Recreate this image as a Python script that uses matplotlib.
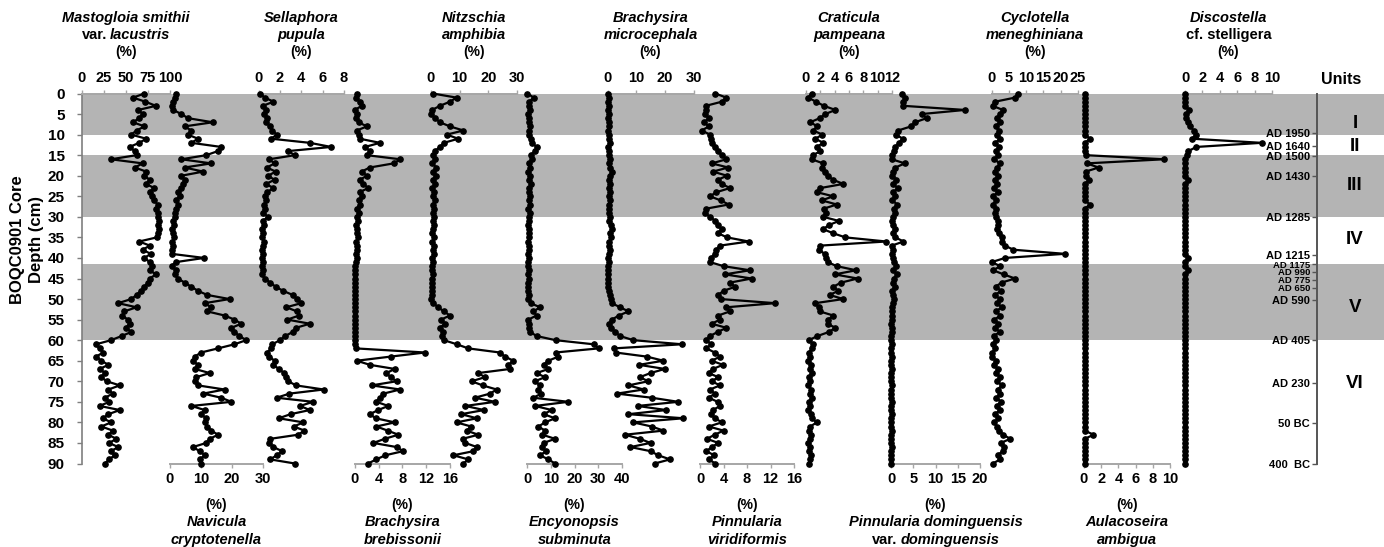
import matplotlib
matplotlib.use('Agg')
import matplotlib.pyplot as plt
from matplotlib.transforms import IdentityTransform

FONT = ['Liberation Sans', 'DejaVu Sans']
plt.rcParams['font.family'] = FONT

# ---------------- data ----------------
depth_cm = [0, 1, 2, 3, 4, 5, 6, 7, 8, 9, 10, 11, 12, 13, 14, 15, 16, 17, 18, 19,
            20, 21, 22, 23, 24, 25, 26, 27, 28, 29, 30, 31, 32, 33, 34, 35, 36, 37, 38, 39,
            40, 41, 42, 43, 44, 45, 46, 47, 48, 49, 50, 51, 52, 53, 54, 55, 56, 57, 58, 59,
            60, 61, 62, 63, 64, 65, 66, 67, 68, 69, 70, 71, 72, 73, 74, 75, 76, 77, 78, 79,
            80, 81, 82, 83, 84, 85, 86, 87, 88, 89, 90]

mastogloia = [71, 58, 72, 84, 64, 69, 65, 58, 71, 62, 56, 73, 65, 54, 60, 62, 33, 69, 60, 73,
              71, 77, 73, 82, 77, 80, 82, 86, 84, 86, 86, 88, 86, 87, 86, 85, 65, 77, 69, 78,
              71, 77, 80, 77, 84, 77, 75, 71, 67, 62, 56, 41, 62, 48, 46, 52, 54, 50, 56, 45,
              33, 16, 20, 24, 16, 22, 30, 20, 26, 22, 28, 43, 30, 35, 26, 31, 20, 43, 30, 24,
              33, 22, 35, 30, 39, 31, 41, 33, 37, 31, 26]
navicula = [2, 1.5, 1, 0.5, 1, 3.7, 5.8, 13.8, 4.7, 6.9, 5.8, 9, 6.9, 16.5, 15.5, 11.7, 3.7, 13.3, 4.7, 10.7,
            3.7, 4.7, 4.2, 3.7, 2.6, 3.1, 2, 2.6, 2, 1.5, 1.5, 1, 1.2, 0.8, 1, 1.2, 0.8, 1, 0.7, 0.5,
            11, 2, 0.5, 2, 1.5, 2.6, 4.7, 6.9, 9, 12, 19.2, 11.2, 13.3, 12, 17.6, 20.8, 23, 19.8, 20.8, 22.4,
            24.6, 20.8, 15.5, 10, 8, 7.4, 9, 8, 12.8, 8.5, 8, 9, 17.6, 10.7, 16.5, 19.8, 6.9, 11.2, 10, 11.7,
            11.2, 12, 13.3, 15.5, 12.8, 11.7, 7.4, 9.6, 11.2, 9.6, 10]
sellaphora = [0.1, 0.6, 1.4, 0.4, 0.7, 0.5, 0.8, 0.7, 1.1, 1.3, 1.7, 1.2, 4.8, 6.8, 2.8, 3.4, 1.0, 1.5, 0.8, 1.6,
              0.9, 1.5, 0.7, 1.4, 0.8, 0.6, 0.7, 0.5, 0.6, 0.4, 0.9, 0.4, 0.5, 0.3, 0.4, 0.3, 0.5, 0.4, 0.3, 0.4,
              0.3, 0.4, 0.3, 0.4, 0.3, 0.6, 1.1, 1.6, 2.3, 3.2, 3.6, 4.0, 2.6, 3.6, 3.8, 2.7, 4.8, 3.5, 3.2, 2.5,
              2.0, 1.3, 1.2, 0.8, 1.0, 1.5, 1.4, 1.9, 2.4, 2.6, 2.8, 3.5, 6.1, 2.9, 1.7, 5.1, 3.9, 4.8, 3.0, 1.9,
              4.2, 3.3, 4.3, 3.7, 1.1, 1.0, 1.4, 2.2, 1.7, 1.1, 3.4]
brebissonii = [0.3, 0.2, 0.8, 1.1, 0, 0.3, 0.2, 0.6, 2.0, 0.3, 0.6, 0.8, 4.2, 1.7, 2.5, 2.0, 7.6, 6.5, 2.5, 1.1,
               2.0, 0.8, 1.4, 2.2, 0.8, 1.1, 0.6, 0.8, 0.3, 0.6, 0.3, 0.5, 0.2, 0.4, 0.3, 0.5, 0.2, 0.4, 0.3, 0.2,
               0.3, 0.2, 0, 0, 0, 0, 0, 0, 0, 0, 0, 0, 0, 0, 0, 0, 0, 0, 0, 0,
               0, 0, 0.1, 11.8, 6.0, 0.3, 2.5, 6.7, 5.3, 6.0, 7.0, 2.8, 7.6, 4.8, 4.2, 3.6, 5.6, 3.9, 2.5, 3.5,
               6.7, 3.6, 5.5, 7.3, 5.0, 3.1, 7.0, 8.1, 5.1, 3.6, 2.2]
nitzschia = [0.6, 8.9, 6.6, 3.1, 0.4, 0, 1.5, 3.1, 6.6, 11.3, 5.5, 9.5, 4.5, 3.1, 1.4, 0.8, 1.5, 0.5, 1.8, 0.8,
             1.6, 0.6, 1.5, 0.5, 1.2, 0.7, 1.3, 0.6, 1.2, 0.8, 1.0, 0.6, 1.1, 0.7, 0.4, 1.0, 0.5, 1.2, 0.6, 0.9,
             0.4, 0.7, 0.5, 0.3, 0.6, 0.4, 0.5, 0.3, 0.4, 0.2, 0.0, 0.8, 2.5, 4.5, 6.6, 3.5, 4.9, 3.0, 4.2, 3.8,
             4.5, 9.0, 13.0, 24.0, 25.8, 28.7, 27.0, 27.6, 16.5, 18.8, 14.2, 18.0, 22.9, 20.6, 15.3, 22.3, 12.0, 18.5, 10.5, 16.0,
             8.9, 14.0, 12.4, 16.5, 11.0, 12.0, 16.0, 14.8, 7.8, 13.0, 11.3]
encyonopsis = [0.2, 2.8, 1.0, 0.8, 1.2, 0.6, 1.0, 0.8, 1.4, 1.0, 0.9, 1.5, 2.0, 4.1, 3.5, 1.5, 2.2, 1.0, 1.4, 0.6,
               1.2, 0.8, 1.6, 1.0, 0.9, 1.3, 0.7, 1.1, 0.6, 1.4, 0.8, 1.0, 0.6, 0.9, 0.7, 1.0, 0.6, 0.8, 1.0, 0.5,
               0.8, 0.6, 0.4, 0.8, 0.5, 0.7, 0.4, 0.6, 0.3, 0.8, 0.5, 1.5, 5.5, 2.7, 4.0, 0.6, 0.8, 1.0, 1.3, 4.1,
               12.0, 28.0, 30.2, 12.0, 13.2, 9.0, 7.0, 9.0, 4.1, 7.5, 3.4, 5.5, 4.5, 6.0, 2.7, 17.4, 3.4, 10.4, 7.0, 11.8,
               7.6, 4.8, 7.6, 6.5, 11.8, 7.0, 6.2, 8.0, 5.5, 9.0, 11.8]
microcephala = [0.3, 0.5, 0.2, 0.4, 0.3, 0.5, 0.2, 0.4, 0.6, 0.3, 0.5, 0.4, 0.7, 0.3, 0.5, 0.6, 0.8, 0.5, 1.0, 1.5,
                0.8, 0.6, 0.9, 0.5, 0.7, 0.4, 0.8, 0.5, 0.6, 0.4, 0.7, 0.5, 1.2, 1.6, 0.9, 1.1, 0.6, 0.5, 0.7, 0.4,
                0.3, 0.5, 0.2, 0.3, 0.2, 0.3, 0.2, 0.3, 0.4, 0.8, 1.2, 1.5, 4.4, 7.3, 4.0, 1.5, 0.6, 1.2, 2.7, 4.4,
                9.0, 26.0, 2.2, 2.8, 13.7, 19.5, 11.0, 20.0, 15.0, 11.3, 14.2, 7.3, 12.6, 3.3, 15.4, 24.7, 10.5, 20.5, 7.3, 26.5,
                9.0, 15.4, 19.5, 6.1, 11.3, 15.0, 8.0, 15.0, 17.7, 21.8, 16.5]
viridiformis = [2.6, 4.5, 3.7, 1.0, 1.0, 0.8, 1.5, 0.7, 1.5, 0.3, 1.7, 1.9, 2.0, 2.6, 3.0, 3.7, 4.5, 2.0, 4.8, 2.2,
                4.6, 3.0, 3.7, 5.1, 2.8, 1.7, 3.5, 4.9, 1.1, 0.8, 1.7, 2.6, 3.0, 3.7, 3.1, 4.6, 8.3, 3.4, 2.8, 2.5,
                1.9, 1.7, 4.0, 8.5, 4.2, 8.8, 5.1, 6.0, 4.0, 3.1, 3.5, 12.8, 4.5, 5.1, 3.1, 3.4, 2.0, 4.5, 3.0, 1.7,
                1.1, 1.9, 1.1, 2.5, 3.4, 2.0, 3.9, 2.2, 1.5, 3.1, 2.0, 3.4, 1.7, 2.5, 1.5, 3.0, 3.4, 2.2, 1.9, 2.6,
                3.7, 1.5, 4.0, 2.5, 1.2, 3.1, 2.0, 1.1, 2.4, 1.5, 2.6]
craticula = [0.8, 0.3, 1.4, 2.5, 4.1, 2.7, 1.9, 0.6, 1.6, 1.0, 2.3, 1.3, 2.4, 1.5, 2.0, 1.0, 0.8, 2.4, 2.2, 2.7,
             3.0, 3.8, 5.2, 2.0, 1.5, 3.8, 2.2, 4.3, 2.5, 2.8, 2.4, 4.6, 3.2, 2.4, 3.8, 5.5, 11.2, 2.0, 1.8, 2.6,
             2.8, 3.0, 4.3, 7.0, 4.0, 7.2, 4.9, 3.8, 4.5, 3.3, 5.2, 1.3, 1.8, 1.9, 3.8, 3.1, 3.0, 4.1, 3.2, 1.6,
             0.4, 1.0, 0.8, 0.4, 0.6, 0.3, 0.7, 0.5, 0.8, 0.4, 0.6, 0.3, 0.7, 0.5, 0.8, 0.4, 0.6, 0.3, 0.7, 0.8,
             1.5, 0.6, 0.4, 0.7, 0.5, 0.3, 0.6, 0.4, 0.7, 0.5, 0.4]
dominguensis = [2.4, 3.1, 2.8, 2.8, 16.6, 6.9, 8.0, 5.4, 4.5, 1.6, 1.2, 2.6, 1.8, 1.0, 0.6, 0.3, 0.2, 3.1, 1.0, 0.5,
                0.3, 1.2, 0.4, 1.5, 0.5, 1.0, 0.3, 1.4, 0.6, 0.9, 0.4, 0.2, 0.5, 0.8, 0.4, 1.0, 2.8, 0.2, 0.5, 0.3,
                0.4, 0.6, 1.2, 0.5, 1.3, 0.6, 0.4, 0.8, 0.3, 0.5, 0.7, 0.4, 0.3, 0.2, 0.3, 0.2, 0.1, 0.3, 0.2, 0.1,
                0.1, 0.2, 0.1, 0.1, 0.2, 0.1, 0.1, 0.2, 0.1, 0.1, 0.1, 0.2, 0.1, 0.1, 0.1, 0.2, 0.1, 0.1, 0.2, 0.1,
                0.1, 0.1, 0.2, 0.1, 0.1, 0.1, 0.2, 0.1, 0.1, 0.1, 0.1]
cyclotella = [7.7, 6.8, 1.0, 0.3, 3.3, 2.5, 1.6, 2.4, 1.2, 2.1, 1.5, 2.6, 1.0, 2.2, 1.4, 2.0, 0.8, 2.4, 1.6, 1.0,
              2.0, 0.9, 1.7, 0.6, 1.8, 0.5, 1.3, 0.4, 1.4, 0.9, 1.2, 1.8, 2.0, 1.6, 2.2, 2.9, 3.0, 3.9, 6.3, 21.2,
              3.9, 0.1, 2.5, 0.5, 3.5, 6.8, 2.9, 1.2, 2.8, 1.0, 2.4, 1.5, 3.0, 1.2, 2.6, 0.8, 2.0, 1.0, 2.4, 0.6,
              1.2, 0.4, 1.0, 0.2, 0.1, 1.3, 0.6, 1.8, 1.2, 2.5, 1.6, 3.0, 1.8, 2.6, 1.4, 2.8, 1.5, 2.4, 1.0, 2.0,
              0.8, 1.5, 2.2, 3.4, 5.4, 2.7, 3.7, 3.2, 1.8, 2.5, 0.4]
aulacoseira = [0.1, 0.1, 0.1, 0.1, 0.1, 0.1, 0.1, 0.1, 0.1, 0.1, 0.1, 0.7, 0.1, 0.1, 0.1, 0.2, 9.3, 0.3, 1.7, 0.2,
               0.2, 0.6, 0.1, 0.1, 0.1, 0.1, 0.1, 0.7, 0.1, 0.1, 0.1, 0.1, 0.1, 0.1, 0.1, 0.1, 0.1, 0.1, 0.1, 0.1,
               0.1, 0.1, 0.1, 0.1, 0.1, 0.1, 0.1, 0.1, 0.1, 0.1, 0.1, 0.1, 0.1, 0.1, 0.1, 0.1, 0.1, 0.1, 0.1, 0.1,
               0.1, 0.1, 0.1, 0.1, 0.1, 0.1, 0.1, 0.1, 0.1, 0.1, 0.1, 0.1, 0.1, 0.1, 0.1, 0.1, 0.1, 0.1, 0.1, 0.1,
               0.1, 0.1, 0.1, 1.1, 0.1, 0.1, 0.1, 0.1, 0.1, 0.1, 0.1]
discostella = [0, 0, 0, 0, 0.5, 0.1, 0.1, 0.3, 0.6, 1.0, 1.3, 0.8, 8.8, 1.3, 0.4, 0.2, 0.05, 0.05, 0.05, 0.05,
               0.05, 0.4, 0.05, 0.05, 0.05, 0.05, 0.05, 0.05, 0.05, 0.05, 0.05, 0.05, 0.05, 0.05, 0.05, 0.05, 0.05, 0.05, 0.05, 0.05,
               0.4, 0.05, 0.05, 0.4, 0.05, 0.05, 0.05, 0.05, 0.05, 0.05, 0.05, 0.05, 0.05, 0.05, 0.05, 0.05, 0.05, 0.05, 0.05, 0.05,
               0.05, 0.05, 0.05, 0.05, 0.05, 0.05, 0.05, 0.05, 0.05, 0.05, 0.05, 0.05, 0.05, 0.05, 0.05, 0.05, 0.05, 0.05, 0.05, 0.05,
               0.05, 0.05, 0.05, 0.05, 0.05, 0.05, 0.05, 0.05, 0.05, 0.05, 0.05]

depth_ticks = [0, 5, 10, 15, 20, 25, 30, 35, 40, 45, 50, 55, 60, 65, 70, 75, 80, 85, 90]
unit_bands = [(0, 10), (15, 30), (41.5, 60)]          # grey-shaded units I, III, V
unit_names = ['I', 'II', 'III', 'IV', 'V', 'VI']
unit_label_depth = [7.3, 13, 22.4, 35.5, 52, 70.6]
date_labels = ['AD 1950', 'AD 1640', 'AD 1500', 'AD 1430', 'AD 1285', 'AD 1215', 'AD 1175',
               'AD 990', 'AD 775', 'AD 650', 'AD 590', 'AD 405', 'AD 230', '50 BC', '400  BC']
date_depth = [9.6, 12.8, 15.1, 20, 30, 39.3, 41.5, 43.4, 45.3, 47.2, 50.2, 60, 70.3, 80.2, 90]
date_small = [False, False, False, False, False, False, True, True, True, True, False, False, False, False, False]

# ---------------- layout helpers ----------------
W, H = 1384, 547
fig = plt.figure(figsize=(W / 100, H / 100), dpi=100)
Y_TOP, Y_BOT = 93.5, 463.5
BOT = 1 - Y_BOT / H
HGT = (Y_BOT - Y_TOP) / H


def fx(p):
    return p / W


renderer = fig.canvas.get_renderer()


def rich(xc, yc, parts, size=10.5, gap=3.0):
    texts = []
    for s, st in parts:
        t = fig.text(0, 0, s, transform=IdentityTransform(), fontsize=size,
                     fontweight='bold', style=st, va='center', ha='left')
        texts.append(t)
    widths = [t.get_window_extent(renderer).width for t in texts]
    total = sum(widths) + gap * (len(texts) - 1)
    x = xc - total / 2
    for t, w in zip(texts, widths):
        t.set_position((x, H - yc))
        x += w + gap


# base axis: depth scale and grey bands
ax0 = fig.add_axes([fx(82), BOT, fx(W - 82), HGT])
ax0.set_xlim(0, 1)
ax0.set_ylim(90, 0)
ax0.patch.set_alpha(0)
for a, b in unit_bands:
    ax0.axhspan(a, b, color='#b4b4b4', lw=0, zorder=0)
for s in ['top', 'right', 'bottom']:
    ax0.spines[s].set_visible(False)
ax0.spines['left'].set_color('#7f7f7f')
ax0.spines['left'].set_linewidth(1.2)
ax0.set_xticks([])
ax0.set_yticks(depth_ticks)
ax0.set_yticklabels([str(d) for d in depth_ticks], fontweight='bold', fontsize=11)
ax0.tick_params(axis='y', direction='out', length=3.5, width=1, color='#7f7f7f', pad=9)

fig.text(fx(18), 1 - 240 / H, 'BOQC0901 Core', rotation=90, ha='center', va='center',
         fontsize=12, fontweight='bold')
fig.text(fx(36), 1 - 240 / H, 'Depth (cm)', rotation=90, ha='center', va='center',
         fontsize=12, fontweight='bold')

# panels: (values, xmax, ticks, x0_px, x1_px, side, title lines)
panels = [
    (mastogloia, 100, [0, 25, 50, 75, 100], 82, 170, 'top',
     [[('Mastogloia smithii', 'italic')], [('var.', 'normal'), ('lacustris', 'italic')]]),
    (navicula, 30, [0, 10, 20, 30], 170, 263, 'bottom',
     [[('Navicula', 'italic')], [('cryptotenella', 'italic')]]),
    (sellaphora, 8, [0, 2, 4, 6, 8], 258.5, 344, 'top',
     [[('Sellaphora', 'italic')], [('pupula', 'italic')]]),
    (brebissonii, 16, [0, 4, 8, 12, 16], 355, 450, 'bottom',
     [[('Brachysira', 'italic')], [('brebissonii', 'italic')]]),
    (nitzschia, 30, [0, 10, 20, 30], 431, 517, 'top',
     [[('Nitzschia', 'italic')], [('amphibia', 'italic')]]),
    (encyonopsis, 40, [0, 10, 20, 30, 40], 527, 622, 'bottom',
     [[('Encyonopsis', 'italic')], [('subminuta', 'italic')]]),
    (microcephala, 30, [0, 10, 20, 30], 607.5, 693.5, 'top',
     [[('Brachysira', 'italic')], [('microcephala', 'italic')]]),
    (viridiformis, 16, [0, 4, 8, 12, 16], 700, 794, 'bottom',
     [[('Pinnularia', 'italic')], [('viridiformis', 'italic')]]),
    (craticula, 12, [0, 2, 4, 6, 8, 10, 12], 806, 892, 'top',
     [[('Craticula', 'italic')], [('pampeana', 'italic')]]),
    (dominguensis, 20, [0, 5, 10, 15, 20], 891, 980, 'bottom',
     [[('Pinnularia dominguensis', 'italic')], [('var.', 'normal'), ('dominguensis', 'italic')]]),
    (cyclotella, 25, [0, 5, 10, 15, 20, 25], 991.5, 1078, 'top',
     [[('Cyclotella', 'italic')], [('meneghiniana', 'italic')]]),
    (aulacoseira, 10, [0, 2, 4, 6, 8, 10], 1084, 1170, 'bottom',
     [[('Aulacoseira', 'italic')], [('ambigua', 'italic')]]),
    (discostella, 10, [0, 2, 4, 6, 8, 10], 1185, 1272, 'top',
     [[('Discostella', 'italic')], [('cf. stelligera', 'normal')]]),
]

for vals, xmax, ticks, x0, x1, side, title in panels:
    ax = fig.add_axes([fx(x0), BOT, fx(x1 - x0), HGT])
    ax.patch.set_alpha(0)
    ax.set_xlim(0, xmax)
    ax.set_ylim(90, 0)
    ax.plot(vals, depth_cm, color='black', lw=1.6, marker='o', ms=3.8,
            clip_on=False, zorder=5)
    for s in ['left', 'right', 'top', 'bottom']:
        ax.spines[s].set_visible(s == side)
    ax.spines[side].set_color('#a6a6a6')
    ax.spines[side].set_linewidth(1.4)
    ax.set_yticks([])
    if side == 'top':
        ax.xaxis.tick_top()
    else:
        ax.xaxis.tick_bottom()
    ax.set_xticks(ticks)
    ax.set_xticklabels([str(t) for t in ticks], fontweight='bold', fontsize=10.5)
    ax.tick_params(axis='x', direction='out', length=3, width=1, color='#a6a6a6', pad=3)
    xc = (x0 + x1) / 2
    if side == 'top':
        rich(xc, 18, title[0])
        rich(xc, 35, title[1])
        rich(xc, 52, [('(%)', 'normal')], size=10)
    else:
        rich(xc, 505, [('(%)', 'normal')], size=10)
        rich(xc, 522, title[0])
        rich(xc, 540, title[1])

# chronology axis
axd = fig.add_axes([fx(1317), BOT, 0.0005, HGT])
axd.patch.set_alpha(0)
axd.set_ylim(90, 0)
axd.set_xticks([])
for s in ['right', 'top', 'bottom']:
    axd.spines[s].set_visible(False)
axd.spines['left'].set_color('#555555')
axd.spines['left'].set_linewidth(1.4)
axd.set_yticks(date_depth)
axd.set_yticklabels(date_labels, fontweight='bold')
for lab, small in zip(axd.get_yticklabels(), date_small):
    lab.set_fontsize(6.8 if small else 8)
axd.tick_params(axis='y', direction='out', length=3.5, width=1, color='#555555', pad=1.5)

# units column
rich(1341, 80, [('Units', 'normal')], size=11.5)
for name, d in zip(unit_names, unit_label_depth):
    rich(1355, Y_TOP + d * (Y_BOT - Y_TOP) / 90, [(name, 'normal')], size=13.5)

fig.savefig('out.png', dpi=100)
